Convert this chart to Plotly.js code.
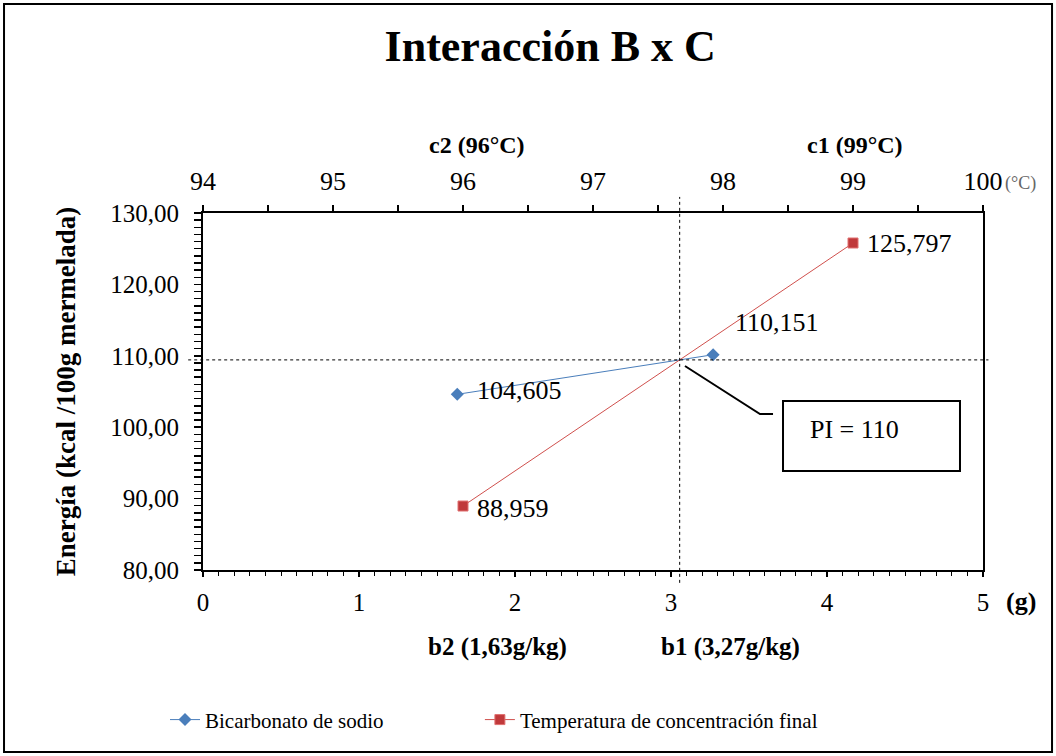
<!DOCTYPE html>
<html><head><meta charset="utf-8">
<script src="https://cdn.plot.ly/plotly-3.0.1.min.js"></script>
<style>html,body{margin:0;padding:0;background:#fff}#chart{width:1056px;height:756px}</style>
</head><body><div id="chart"></div>
<script>
// ---- data ----
const seriesNames = ['Bicarbonato de sodio', 'Temperatura de concentración final'];
const bicarbX = [1.63, 3.27];          // g (bottom axis)
const bicarbY = [104.605, 110.151];
const tempX = [96, 99];                // °C (top axis)
const tempY = [88.959, 125.797];
const bLabels = ['b2 (1,63g/kg)', 'b1 (3,27g/kg)'];
const cLabels = ['c2 (96°C)', 'c1 (99°C)'];
const piLabel = 'PI = 110';
const chartTitle = 'Interacción B x C';
const yTitle = 'Energía (kcal /100g mermelada)';
const xRangeG = [0, 5];
const xRangeC = [94, 100];
const yRange = [80, 130];

const FONT = "'Liberation Serif', 'Times New Roman', serif";
const BLUE = '#4a7ebb';
const RED = '#d0504d';

function fmt(v) { return v.toFixed(3).replace('.', ','); }

// intersection of the two lines (top axis converted to bottom-axis units)
function cToG(c) { return (c - xRangeC[0]) / (xRangeC[1] - xRangeC[0]) * (xRangeG[1] - xRangeG[0]) + xRangeG[0]; }
const rx1 = cToG(tempX[0]), rx2 = cToG(tempX[1]);
const mb = (bicarbY[1] - bicarbY[0]) / (bicarbX[1] - bicarbX[0]);
const mr = (tempY[1] - tempY[0]) / (rx2 - rx1);
const ix = (tempY[0] - mr * rx1 - bicarbY[0] + mb * bicarbX[0]) / (mb - mr);
const iy = bicarbY[0] + mb * (ix - bicarbX[0]);

const traces = [
  {x: bicarbX, y: bicarbY, xaxis: 'x', yaxis: 'y', mode: 'lines+markers', name: seriesNames[0], legend: 'legend',
   line: {color: BLUE, width: 1}, marker: {symbol: 'diamond', size: 10, color: BLUE}, hoverinfo: 'skip'},
  {x: tempX, y: tempY, xaxis: 'x2', yaxis: 'y', mode: 'lines+markers', name: seriesNames[1], legend: 'legend2',
   line: {color: RED, width: 1}, marker: {symbol: 'square', size: 10, color: '#c0393b', line: {color: '#e07070', width: 1}}, hoverinfo: 'skip'}
];

const tickFont = {family: FONT, size: 25, color: '#000'};
const annFont = {family: FONT, size: 26, color: '#000'};
const boldFont = {family: FONT, size: 24, color: '#000'};
const boldFontB = {family: FONT, size: 25, color: '#000'};
const legendFont = {family: FONT, size: 21, color: '#000'};

const annotations = [
  {xref: 'x', yref: 'y', x: bicarbX[0], y: bicarbY[0], text: fmt(bicarbY[0]), showarrow: false, xanchor: 'left', yanchor: 'middle', xshift: 18, yshift: 4, font: annFont},
  {xref: 'x', yref: 'y', x: bicarbX[1], y: bicarbY[1], text: fmt(bicarbY[1]), showarrow: false, xanchor: 'left', yanchor: 'middle', xshift: 20, yshift: 32, font: annFont},
  {xref: 'x2', yref: 'y', x: tempX[1], y: tempY[1], text: fmt(tempY[1]), showarrow: false, xanchor: 'left', yanchor: 'middle', xshift: 12, yshift: 0, font: annFont},
  {xref: 'x2', yref: 'y', x: tempX[0], y: tempY[0], text: fmt(tempY[0]), showarrow: false, xanchor: 'left', yanchor: 'middle', xshift: 12, yshift: -2, font: annFont},
  {xref: 'paper', yref: 'paper', x: 0.378, y: -0.216, xanchor: 'center', yanchor: 'middle', text: '<b>' + bLabels[0] + '</b>', showarrow: false, font: boldFontB},
  {xref: 'paper', yref: 'paper', x: 0.676, y: -0.216, xanchor: 'center', yanchor: 'middle', text: '<b>' + bLabels[1] + '</b>', showarrow: false, font: boldFontB},
  {xref: 'paper', yref: 'paper', x: 0.351, y: 1.190, xanchor: 'center', yanchor: 'middle', text: '<b>' + cLabels[0] + '</b>', showarrow: false, font: boldFont},
  {xref: 'paper', yref: 'paper', x: 0.836, y: 1.190, xanchor: 'center', yanchor: 'middle', text: '<b>' + cLabels[1] + '</b>', showarrow: false, font: boldFont},
  {xref: 'paper', yref: 'paper', x: 1.026, y: 1.084, xanchor: 'left', yanchor: 'middle', text: '(°C)', showarrow: false, font: {family: FONT, size: 18, color: '#666'}},
  {xref: 'paper', yref: 'paper', x: 1.049, y: -0.0896, xanchor: 'center', yanchor: 'middle', text: '<b>(g)</b>', showarrow: false, font: {family: FONT, size: 26, color: '#000'}},
  {xref: 'paper', yref: 'paper', x: 0.7756, y: 0.3922, xanchor: 'left', yanchor: 'middle', text: piLabel, showarrow: false, font: annFont}
];

const shapes = [
  // dotted reference lines through the intersection
  {type: 'line', xref: 'x', yref: 'paper', x0: ix, x1: ix, y0: -0.036, y1: 1.045, line: {color: '#000', width: 1, dash: 'dot'}},
  {type: 'line', xref: 'paper', yref: 'y', x0: -0.019, x1: 1.007, y0: iy, y1: iy, line: {color: '#000', width: 1, dash: 'dot'}},
  // callout connector and box
  {type: 'path', xref: 'paper', yref: 'paper', path: 'M 0.6179 0.5714 L 0.7141 0.4370 L 0.7308 0.4370', line: {color: '#000', width: 2}},
  {type: 'rect', xref: 'paper', yref: 'paper', x0: 0.7436, x1: 0.9705, y0: 0.2773, y1: 0.4734, line: {color: '#000', width: 2}, fillcolor: 'rgba(255,255,255,0)'},
  // outer chart border
  {type: 'rect', xref: 'paper', yref: 'paper', x0: -0.2551, x1: 1.0885, y0: -0.5098, y1: 1.5854, line: {color: '#000', width: 2}, layer: 'below'}
];

const layout = {
  width: 1056, height: 756,
  paper_bgcolor: '#fff', plot_bgcolor: 'rgba(0,0,0,0)',
  margin: {l: 203, r: 73, t: 213, b: 186},
  separators: ',.',
  font: {family: FONT, color: '#000'},
  title: {text: '<b>' + chartTitle + '</b>', font: {family: FONT, size: 44, color: '#000'}, x: 0.521, xref: 'container', y: 0.94, yref: 'container', xanchor: 'center', yanchor: 'middle'},
  showlegend: true,
  legend: {orientation: 'h', x: -0.0487, xanchor: 'left', y: -0.42, yanchor: 'middle', font: legendFont, bgcolor: 'rgba(0,0,0,0)'},
  legend2: {orientation: 'h', x: 0.355, xanchor: 'left', y: -0.42, yanchor: 'middle', font: legendFont, bgcolor: 'rgba(0,0,0,0)'},
  xaxis: {range: xRangeG, dtick: 1, tickformat: 'd', side: 'bottom', anchor: 'y', showline: true, linecolor: '#000', linewidth: 2,
          ticks: 'outside', ticklen: 5, tickwidth: 1.5, tickcolor: '#000', showgrid: false, zeroline: false, tickfont: tickFont, ticklabelstandoff: 4,
          minor: {dtick: 0.1, ticks: 'outside', ticklen: 4, tickwidth: 1, tickcolor: '#000', showgrid: false}},
  xaxis3: {range: xRangeG, overlaying: 'x', side: 'bottom', anchor: 'y', dtick: 1, showline: false, showticklabels: false,
          ticks: 'inside', ticklen: 5, tickwidth: 1.5, tickcolor: '#000', showgrid: false, zeroline: false,
          minor: {dtick: 0.1, ticks: 'inside', ticklen: 4, tickwidth: 1, tickcolor: '#000', showgrid: false}},
  xaxis2: {range: xRangeC, overlaying: 'x', side: 'top', anchor: 'y', dtick: 1, tickformat: 'd', showline: true, linecolor: '#000', linewidth: 2,
          ticks: 'outside', ticklen: 6, tickwidth: 1.5, tickcolor: '#000', showgrid: false, zeroline: false, tickfont: {family: FONT, size: 26, color: '#000'}, ticklabelstandoff: 5,
          minor: {dtick: 0.5, ticks: 'outside', ticklen: 6, tickwidth: 1.5, tickcolor: '#000', showgrid: false}},
  xaxis4: {range: xRangeC, overlaying: 'x', side: 'top', anchor: 'y', dtick: 1, showline: false, showticklabels: false,
          ticks: 'inside', ticklen: 6, tickwidth: 1.5, tickcolor: '#000', showgrid: false, zeroline: false,
          minor: {dtick: 0.5, ticks: 'inside', ticklen: 6, tickwidth: 1.5, tickcolor: '#000', showgrid: false}},
  yaxis: {range: yRange, dtick: 10, tickformat: '.2f', side: 'left', anchor: 'x', showline: true, linecolor: '#000', linewidth: 2, mirror: true,
          ticks: 'outside', ticklen: 7, tickwidth: 1.5, tickcolor: '#000', showgrid: false, zeroline: false, tickfont: tickFont, ticklabelstandoff: 10,
          title: {text: '<b>' + yTitle + '</b>', font: {family: FONT, size: 27, color: '#000'}, standoff: 27},
          minor: {dtick: 1, ticks: 'outside', ticklen: 7, tickwidth: 1.5, tickcolor: '#000', showgrid: false}},
  yaxis2: {range: yRange, overlaying: 'y', side: 'left', anchor: 'x', dtick: 10, showline: false, showticklabels: false,
          ticks: 'inside', ticklen: 7, tickwidth: 1.5, tickcolor: '#000', showgrid: false, zeroline: false,
          minor: {dtick: 1, ticks: 'inside', ticklen: 7, tickwidth: 1.5, tickcolor: '#000', showgrid: false}},
  annotations: annotations,
  shapes: shapes
};

Plotly.newPlot('chart', traces, layout, {displayModeBar: false, staticPlot: true});
</script>
</body></html>
